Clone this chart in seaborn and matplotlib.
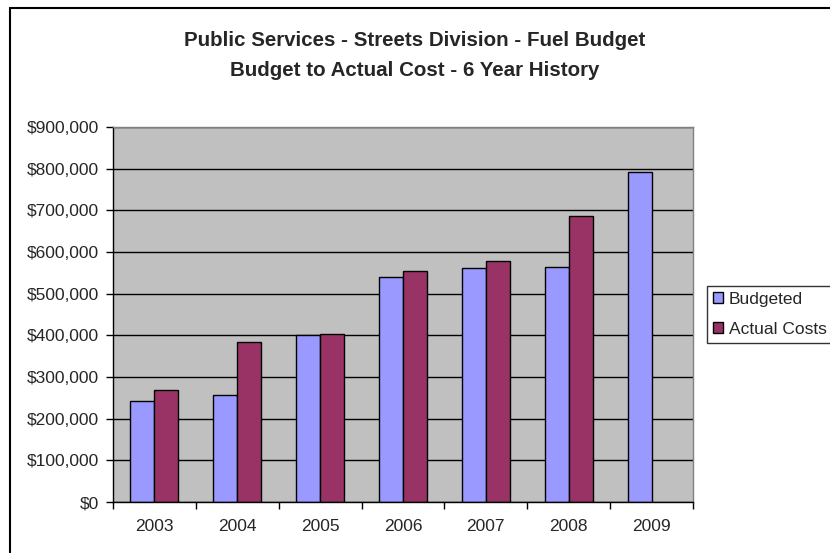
import matplotlib
matplotlib.use("Agg")
import matplotlib.pyplot as plt
import seaborn as sns
import pandas as pd
import numpy as np
from matplotlib.lines import Line2D
from matplotlib.ticker import FuncFormatter, MultipleLocator

years = ["2003", "2004", "2005", "2006", "2007", "2008", "2009"]
budgeted = [243000, 256000, 401000, 541000, 562000, 565000, 791000]
actual = [270000, 384000, 404000, 555000, 578000, 686000, np.nan]
series_names = ["Budgeted", "Actual Costs"]
colors = ["#9999FF", "#993366"]

df = pd.DataFrame({
    "Year": years * 2,
    "Value": budgeted + actual,
    "Series": [series_names[0]] * len(years) + [series_names[1]] * len(years),
})

sns.set_style("white")
plt.rcParams["font.family"] = ["Liberation Sans", "DejaVu Sans"]

W, H = 830, 553
fig = plt.figure(figsize=(W / 100, H / 100), dpi=100)
ax = fig.add_axes([113 / W, (H - 502) / H, 580 / W, 375 / H])

sns.barplot(data=df, x="Year", y="Value", hue="Series", order=years,
            hue_order=series_names, palette=colors, width=0.58,
            edgecolor="black", linewidth=1, errorbar=None, ax=ax,
            saturation=1)

ax.set_facecolor("#C0C0C0")
ax.set_ylim(0, 900000)
ax.set_xlim(-0.5, len(years) - 0.5)
ax.yaxis.set_major_locator(MultipleLocator(100000))
ax.yaxis.set_major_formatter(FuncFormatter(lambda v, p: f"${int(v):,}"))
ax.yaxis.grid(True, color="black", linewidth=1)
ax.set_axisbelow(True)
ax.set_xlabel("")
ax.set_ylabel("")

for s in ["top", "right"]:
    ax.spines[s].set_color("#808080")
    ax.spines[s].set_linewidth(1)
for s in ["left", "bottom"]:
    ax.spines[s].set_color("black")
    ax.spines[s].set_linewidth(1)

fs = 12.5
ax.tick_params(axis="y", which="major", direction="out", length=5, width=1,
               color="black", labelsize=fs, pad=5, left=True)
ax.tick_params(axis="x", which="major", length=0, labelsize=fs, pad=12)
ax.set_xticks(np.arange(-0.5, len(years), 1.0), minor=True)
ax.tick_params(axis="x", which="minor", direction="out", length=5, width=1,
               color="black", bottom=True)

handles, labels = ax.get_legend_handles_labels()
ax.legend_.remove()
leg = fig.legend(handles, labels, loc="upper left",
                 bbox_to_anchor=(707 / W, 1 - 286 / H),
                 frameon=True, fancybox=False, fontsize=fs,
                 handlelength=0.6, handleheight=0.6, handletextpad=0.3,
                 labelspacing=0.85, borderpad=0.35, borderaxespad=0)
leg.get_frame().set_edgecolor("black")
leg.get_frame().set_linewidth(1)

fig.text(0.5, 1 - 40 / H, "Public Services - Streets Division - Fuel Budget",
         ha="center", va="center", fontsize=14.8, fontweight="bold")
fig.text(0.5, 1 - 70 / H, "Budget to Actual Cost - 6 Year History",
         ha="center", va="center", fontsize=14.8, fontweight="bold")

fig.add_artist(Line2D([10 / W, 10 / W], [0, 1 - 8 / H], transform=fig.transFigure,
                      color="black", linewidth=1.5))
fig.add_artist(Line2D([10 / W, 1], [1 - 8 / H, 1 - 8 / H], transform=fig.transFigure,
                      color="black", linewidth=1.5))

fig.savefig("out.png", dpi=100)
